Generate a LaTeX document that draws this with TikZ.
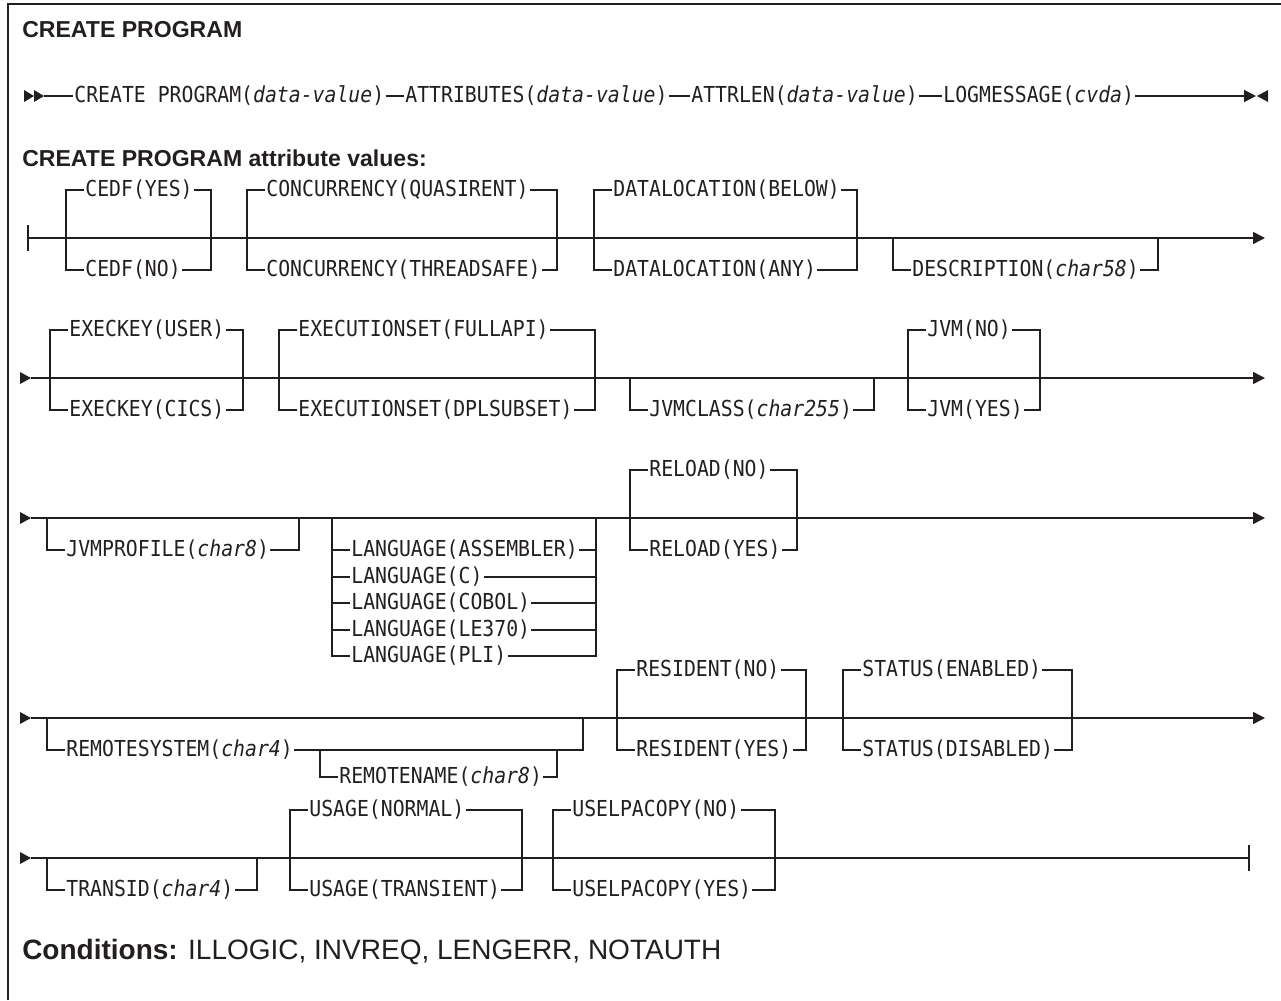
\documentclass[tikz,border=0pt]{standalone}
\usepackage{fontspec}
\setmainfont{Liberation Sans}
\newfontfamily\monofont[FakeStretch=0.9]{DejaVu Sans Mono}
\usetikzlibrary{arrows.meta}
\definecolor{ink}{RGB}{35,31,32}
\tikzset{
  rail/.style={draw=ink, line width=1.1pt},
  kw/.style={font=\monofont\fontsize{16.5}{18}\selectfont, text=ink, inner xsep=0.8pt, inner ysep=0pt, anchor=west},
  head/.style={font=\fontsize{17.3}{20}\selectfont\bfseries, text=ink, anchor=west, inner sep=0pt},
  plain/.style={font=\fontsize{21}{24}\selectfont, text=ink, anchor=west, inner sep=0pt},
  endtip/.style={-{Triangle[length=9pt,width=9pt]}},
  bar/.style={draw=ink, line width=1.3pt},
}
\begin{document}
\begin{tikzpicture}[x=0.75pt,y=-0.75pt]
\useasboundingbox (0,0) rectangle (1281,1000);
% frame
\draw[ink, line width=1.2pt] (8,1000) -- (8,4) -- (1281,4);

% ---------- command syntax ----------
\node[head] (t1) at (22,30) {CREATE PROGRAM};
\fill[ink] (24,90) -- (34,96) -- (24,102) -- cycle;
\fill[ink] (34,90) -- (44,96) -- (34,102) -- cycle;
\coordinate (r0s) at (44,96);
\coordinate (r0e) at (1256,96);
\node[kw] (c1) at (73,96) {CREATE PROGRAM(\textit{data-value})};
\node[kw] (c2) at (404,96) {ATTRIBUTES(\textit{data-value})};
\node[kw] (c3) at (690,96) {ATTRLEN(\textit{data-value})};
\node[kw] (c4) at (942,96) {LOGMESSAGE(\textit{cvda})};
\draw[rail] (r0s) -- (c1.west);
\draw[rail] (c1.east) -- (c2.west);
\draw[rail] (c2.east) -- (c3.west);
\draw[rail] (c3.east) -- (c4.west);
\draw[rail, endtip] (c4.east) -- (r0e);
\fill[ink] (1268,90) -- (1257,96) -- (1268,102) -- cycle;

% ---------- attribute values ----------
\node[head] (t2) at (22,158) {CREATE PROGRAM attribute values:};

% row 1
\draw[bar] (28,225) -- (28,251);
\coordinate (r1s) at (28,238);
\coordinate (r1e) at (1265,238);
\draw[rail, endtip] (r1s) -- (r1e);
\node[kw] (cedfY) at (84,190) {CEDF(YES)};
\node[kw] (cedfN) at (84,270) {CEDF(NO)};
\draw[rail] (cedfY.west) -| (66,238) |- (cedfN.west);
\draw[rail] (cedfY.east) -| (211,238) |- (cedfN.east);
\node[kw] (concQ) at (265,190) {CONCURRENCY(QUASIRENT)};
\node[kw] (concT) at (265,270) {CONCURRENCY(THREADSAFE)};
\draw[rail] (concQ.west) -| (247,238) |- (concT.west);
\draw[rail] (concQ.east) -| (557,238) |- (concT.east);
\node[kw] (dlB) at (612,190) {DATALOCATION(BELOW)};
\node[kw] (dlA) at (612,270) {DATALOCATION(ANY)};
\draw[rail] (dlB.west) -| (594,238) |- (dlA.west);
\draw[rail] (dlB.east) -| (857,238) |- (dlA.east);
\node[kw] (desc) at (911,270) {DESCRIPTION(\textit{char58})};
\draw[rail] (893,238) |- (desc.west);
\draw[rail] (desc.east) -| (1158,238);

% row 2
\fill[ink] (20,372) -- (31,378) -- (20,384) -- cycle;
\coordinate (r2s) at (31,378);
\coordinate (r2e) at (1265,378);
\draw[rail, endtip] (r2s) -- (r2e);
\node[kw] (ekU) at (68,330) {EXECKEY(USER)};
\node[kw] (ekC) at (68,410) {EXECKEY(CICS)};
\draw[rail] (ekU.west) -| (50,378) |- (ekC.west);
\draw[rail] (ekU.east) -| (243,378) |- (ekC.east);
\node[kw] (esF) at (297,330) {EXECUTIONSET(FULLAPI)};
\node[kw] (esD) at (297,410) {EXECUTIONSET(DPLSUBSET)};
\draw[rail] (esF.west) -| (279,378) |- (esD.west);
\draw[rail] (esF.east) -| (595,378) |- (esD.east);
\node[kw] (jc) at (648,410) {JVMCLASS(\textit{char255})};
\draw[rail] (630,378) |- (jc.west);
\draw[rail] (jc.east) -| (874,378);
\node[kw] (jvN) at (926,330) {JVM(NO)};
\node[kw] (jvY) at (926,410) {JVM(YES)};
\draw[rail] (jvN.west) -| (908,378) |- (jvY.west);
\draw[rail] (jvN.east) -| (1040,378) |- (jvY.east);

% row 3
\fill[ink] (20,512) -- (31,518) -- (20,524) -- cycle;
\coordinate (r3s) at (31,518);
\coordinate (r3e) at (1265,518);
\draw[rail, endtip] (r3s) -- (r3e);
\node[kw] (jp) at (65,550) {JVMPROFILE(\textit{char8})};
\draw[rail] (47,518) |- (jp.west);
\draw[rail] (jp.east) -| (299,518);
\node[kw] (lA) at (350,550) {LANGUAGE(ASSEMBLER)};
\node[kw] (lC) at (350,577) {LANGUAGE(C)};
\node[kw] (lB) at (350,603) {LANGUAGE(COBOL)};
\node[kw] (lL) at (350,630) {LANGUAGE(LE370)};
\node[kw] (lP) at (350,656) {LANGUAGE(PLI)};
\draw[rail] (332,518) |- (lP.west);
\draw[rail] (596,518) |- (lP.east);
\foreach \n in {lA,lC,lB,lL} {
  \draw[rail] (332,0 |- \n.west) -- (\n.west);
  \draw[rail] (\n.east) -- (596,0 |- \n.east);
}
\node[kw] (rlN) at (648,470) {RELOAD(NO)};
\node[kw] (rlY) at (648,550) {RELOAD(YES)};
\draw[rail] (rlN.west) -| (630,518) |- (rlY.west);
\draw[rail] (rlN.east) -| (797,518) |- (rlY.east);

% row 4
\fill[ink] (20,712) -- (31,718) -- (20,724) -- cycle;
\coordinate (r4s) at (31,718);
\coordinate (r4e) at (1265,718);
\draw[rail, endtip] (r4s) -- (r4e);
\node[kw] (rs) at (65,750) {REMOTESYSTEM(\textit{char4})};
\node[kw] (rn) at (338,777) {REMOTENAME(\textit{char8})};
\draw[rail] (47,718) |- (rs.west);
\draw[rail] (rs.east) -| (583,718);
\draw[rail] (320,750) |- (rn.west);
\draw[rail] (rn.east) -| (557,750);
\node[kw] (reN) at (635,670) {RESIDENT(NO)};
\node[kw] (reY) at (635,750) {RESIDENT(YES)};
\draw[rail] (reN.west) -| (617,718) |- (reY.west);
\draw[rail] (reN.east) -| (806,718) |- (reY.east);
\node[kw] (stE) at (861,670) {STATUS(ENABLED)};
\node[kw] (stD) at (861,750) {STATUS(DISABLED)};
\draw[rail] (stE.west) -| (843,718) |- (stD.west);
\draw[rail] (stE.east) -| (1072,718) |- (stD.east);

% row 5
\fill[ink] (20,852) -- (31,858) -- (20,864) -- cycle;
\coordinate (r5s) at (31,858);
\coordinate (r5e) at (1249,858);
\draw[rail] (r5s) -- (r5e);
\draw[bar] (1249,845) -- (1249,871);
\node[kw] (tr) at (65,890) {TRANSID(\textit{char4})};
\draw[rail] (47,858) |- (tr.west);
\draw[rail] (tr.east) -| (257,858);
\node[kw] (usN) at (308,810) {USAGE(NORMAL)};
\node[kw] (usT) at (308,890) {USAGE(TRANSIENT)};
\draw[rail] (usN.west) -| (290,858) |- (usT.west);
\draw[rail] (usN.east) -| (522,858) |- (usT.east);
\node[kw] (ulN) at (571,810) {USELPACOPY(NO)};
\node[kw] (ulY) at (571,890) {USELPACOPY(YES)};
\draw[rail] (ulN.west) -| (553,858) |- (ulY.west);
\draw[rail] (ulN.east) -| (775,858) |- (ulY.east);

% conditions
\node[plain] (cond) at (22,952) {\textbf{Conditions:} ILLOGIC, INVREQ, LENGERR, NOTAUTH};
\end{tikzpicture}
\end{document}
